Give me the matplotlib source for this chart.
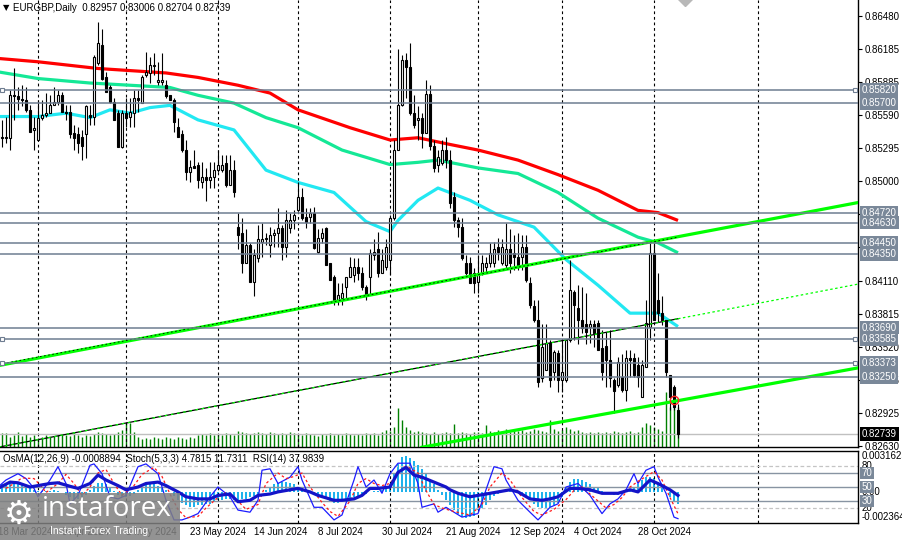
import matplotlib
matplotlib.use("Agg")
import matplotlib.pyplot as plt
import matplotlib.transforms as mtransforms
from matplotlib.patches import Rectangle
import numpy as np

plt.rcParams['font.family'] = ['Liberation Sans', 'DejaVu Sans']

header = "EURGBP,Daily  0.82957 0.83006 0.82704 0.82739"
osma_label = "OsMA(12,26,9) -0.0008894  Stoch(5,3,3) 4.7815 11.7311  RSI(14) 37.9839"

# daily candles, prices in pips (x 1e-4)
opens = [8541, 8540, 8539, 8539, 8577, 8576, 8574, 8573, 8564, 8546,
         8537, 8557, 8559, 8561, 8568, 8571, 8577, 8562, 8562, 8543,
         8542, 8540, 8542, 8559, 8558, 8606, 8622, 8593, 8584, 8571,
         8561, 8531, 8561, 8558, 8561, 8575, 8570, 8595, 8597, 8603,
         8589, 8589, 8586, 8577, 8573, 8549, 8542, 8528, 8508, 8514,
         8515, 8499, 8504, 8501, 8504, 8510, 8510, 8516, 8497, 8510,
         8459, 8454, 8427, 8443, 8410, 8431, 8446, 8448, 8443, 8452,
         8454, 8458, 8441, 8458, 8465, 8474, 8486, 8468, 8468, 8472,
         8437, 8449, 8458, 8427, 8414, 8394, 8396, 8405, 8414, 8416,
         8423, 8418, 8405, 8414, 8434, 8439, 8418, 8423, 8430, 8467,
         8528, 8568, 8609, 8602, 8561, 8555, 8557, 8543, 8578, 8532,
         8515, 8516, 8528, 8519, 8486, 8465, 8459, 8427, 8427, 8418,
         8410, 8418, 8423, 8427, 8427, 8441, 8427, 8425, 8439, 8436,
         8432, 8432, 8441, 8409, 8388, 8376, 8324, 8331, 8355, 8329,
         8346, 8322, 8322, 8358, 8401, 8387, 8376, 8372, 8370, 8372,
         8373, 8351, 8353, 8340, 8322, 8318, 8325, 8313, 8342, 8342,
         8336, 8307, 8334, 8370, 8436, 8394, 8382, 8376, 8327, 8316,
         8295.7]
highs = [8550, 8555, 8558, 8582, 8601, 8584, 8586, 8584, 8568, 8558,
         8573, 8573, 8579, 8577, 8584, 8582, 8580, 8568, 8568, 8550,
         8549, 8546, 8568, 8568, 8613, 8643, 8636, 8598, 8586, 8575,
         8564, 8564, 8575, 8575, 8582, 8582, 8595, 8616, 8611, 8615,
         8607, 8615, 8591, 8577, 8575, 8557, 8546, 8537, 8519, 8528,
         8517, 8517, 8512, 8517, 8517, 8528, 8524, 8524, 8524, 8519,
         8472, 8467, 8457, 8445, 8439, 8461, 8463, 8454, 8459, 8457,
         8476, 8461, 8474, 8472, 8474, 8499, 8494, 8476, 8476, 8477,
         8457, 8458, 8459, 8427, 8416, 8409, 8409, 8414, 8432, 8431,
         8431, 8423, 8407, 8439, 8448, 8455, 8439, 8448, 8470, 8537,
         8618, 8613, 8615, 8624, 8577, 8567, 8561, 8591, 8586, 8537,
         8528, 8537, 8540, 8528, 8490, 8468, 8467, 8434, 8432, 8422,
         8434, 8434, 8432, 8445, 8446, 8449, 8448, 8463, 8457, 8452,
         8454, 8452, 8452, 8414, 8394, 8394, 8372, 8372, 8358, 8349,
         8349, 8358, 8358, 8430, 8403, 8407, 8405, 8400, 8376, 8376,
         8376, 8367, 8365, 8367, 8324, 8343, 8345, 8349, 8349, 8346,
         8343, 8340, 8394, 8445, 8445, 8418, 8397, 8376, 8327, 8318,
         8300.6]
lows = [8533, 8531, 8534, 8528, 8555, 8564, 8567, 8562, 8544, 8528,
        8537, 8555, 8558, 8561, 8568, 8568, 8562, 8555, 8539, 8528,
        8525, 8519, 8521, 8550, 8550, 8604, 8591, 8580, 8570, 8555,
        8531, 8530, 8549, 8549, 8549, 8562, 8570, 8593, 8588, 8595,
        8586, 8586, 8575, 8573, 8544, 8540, 8526, 8501, 8499, 8512,
        8494, 8494, 8482, 8494, 8494, 8508, 8508, 8495, 8497, 8486,
        8439, 8418, 8427, 8410, 8397, 8428, 8432, 8443, 8432, 8441,
        8441, 8430, 8432, 8454, 8457, 8473, 8465, 8458, 8463, 8439,
        8436, 8445, 8425, 8412, 8389, 8389, 8389, 8394, 8414, 8410,
        8412, 8403, 8394, 8398, 8430, 8414, 8418, 8421, 8416, 8465,
        8528, 8567, 8575, 8559, 8548, 8537, 8530, 8543, 8528, 8508,
        8508, 8515, 8512, 8476, 8459, 8450, 8430, 8416, 8409, 8400,
        8400, 8416, 8419, 8423, 8423, 8430, 8425, 8422, 8418, 8421,
        8421, 8421, 8410, 8387, 8374, 8316, 8320, 8331, 8316, 8322,
        8311, 8311, 8320, 8356, 8358, 8354, 8364, 8354, 8355, 8352,
        8349, 8322, 8316, 8316, 8293, 8316, 8311, 8303, 8325, 8325,
        8316, 8307, 8334, 8358, 8376, 8374, 8371, 8325, 8295, 8295,
        8270.4]
closes = [8540, 8539, 8540, 8577, 8576, 8574, 8573, 8564, 8544, 8548,
          8557, 8559, 8561, 8568, 8571, 8577, 8562, 8561, 8542, 8539,
          8534, 8532, 8567, 8558, 8611, 8624, 8592, 8580, 8571, 8555,
          8531, 8561, 8557, 8562, 8575, 8573, 8593, 8598, 8604, 8604,
          8591, 8591, 8576, 8573, 8553, 8540, 8528, 8508, 8513, 8512,
          8501, 8504, 8501, 8504, 8510, 8515, 8515, 8497, 8510, 8490,
          8452, 8427, 8443, 8410, 8434, 8448, 8448, 8449, 8452, 8454,
          8458, 8441, 8465, 8465, 8470, 8486, 8467, 8464, 8472, 8440,
          8449, 8454, 8425, 8412, 8394, 8398, 8400, 8414, 8423, 8423,
          8418, 8405, 8397, 8436, 8437, 8418, 8430, 8441, 8467, 8528,
          8568, 8609, 8602, 8561, 8550, 8557, 8543, 8578, 8532, 8512,
          8522, 8528, 8519, 8481, 8465, 8459, 8431, 8418, 8409, 8409,
          8418, 8427, 8427, 8436, 8439, 8437, 8441, 8439, 8427, 8432,
          8425, 8441, 8412, 8389, 8376, 8320, 8352, 8355, 8322, 8347,
          8322, 8329, 8358, 8403, 8389, 8376, 8369, 8365, 8372, 8364,
          8349, 8329, 8340, 8324, 8312, 8338, 8313, 8342, 8340, 8327,
          8325, 8336, 8373, 8436, 8376, 8382, 8376, 8329, 8307, 8298,
          8273.9]
# tick volume, thousands
volumes = [12, 14, 14, 10, 12, 15, 11, 13, 10, 12,
           9, 10, 12, 10, 11, 12, 13, 12, 11, 14,
           12, 10, 12, 11, 13, 15, 14, 13, 12, 13,
           15, 17, 24, 24, 15, 10, 8, 9, 8, 10,
           9, 8, 10, 9, 8, 10, 9, 8, 10, 9,
           12, 13, 12, 14, 12, 13, 12, 14, 13, 12,
           16, 15, 14, 13, 14, 15, 14, 13, 15, 14,
           13, 14, 13, 15, 14, 13, 12, 14, 13, 12,
           11, 13, 12, 14, 12, 13, 12, 14, 13, 12,
           13, 12, 14, 13, 14, 12, 15, 17, 16, 20,
           39, 27, 20, 17, 15, 16, 15, 14, 13, 15,
           13, 14, 15, 14, 23, 14, 15, 14, 13, 15,
           15, 14, 22, 16, 15, 17, 16, 18, 15, 16,
           16, 17, 15, 16, 18, 17, 16, 15, 27, 18,
           16, 17, 20, 18, 16, 17, 15, 14, 15, 14,
           15, 14, 15, 14, 16, 15, 14, 15, 16, 14,
           15, 20, 24, 22, 20, 18, 16, 55, 40, 44, 40]

# moving averages read at some bars (pips)
ma_red_idx = [0, 10, 25, 42, 50, 60, 68, 75, 88, 98, 105, 113, 120, 130, 140, 150, 160, 165, 170]
ma_red = [8610, 8607, 8601, 8597, 8593, 8586, 8579, 8564, 8548, 8537, 8539, 8533, 8528, 8519, 8506, 8492, 8474, 8472, 8465]
ma_green_idx = [0, 10, 23, 38, 43, 50, 59, 67, 75, 86, 98, 105, 110, 120, 130, 140, 150, 160, 165, 170]
ma_green = [8598, 8592, 8588, 8585, 8584, 8577, 8570, 8557, 8548, 8528, 8515, 8517, 8519, 8512, 8507, 8490, 8467, 8450, 8445, 8436]
ma_cyan_idx = [0, 10, 17, 23, 28, 33, 38, 43, 50, 59, 63, 67, 75, 84, 92, 98, 100, 105, 110, 118, 125, 134, 142, 150, 158, 165, 170]
ma_cyan = [8558, 8558, 8561, 8557, 8564, 8561, 8566, 8568, 8555, 8546, 8528, 8510, 8499, 8490, 8464, 8455, 8465, 8483, 8494, 8483, 8470, 8459, 8430, 8407, 8382, 8382, 8370]

# horizontal levels
levels = [0.85820, 0.85700, 0.84720, 0.84630, 0.84450, 0.84350, 0.83690, 0.83585, 0.83373, 0.83250]
anchored = [0.85820, 0.83585, 0.83373]
last_price = 0.82739
price_ticks = [0.86480, 0.86185, 0.85885, 0.85590, 0.85295, 0.85000, 0.84705, 0.84410,
               0.84110, 0.83815, 0.83520, 0.83225, 0.82925, 0.82630]
hidden_ticks = [0.84705, 0.84410]   # fully under level boxes

# trend lines (bar, price)
trend_a = ([0, 215], [0.8335, 0.8481])
trend_a_black = ([0, 170], [0.8336, 0.8450])
trend_b = ([0, 170], [0.8262, 0.8377])
trend_b_ext = ([170, 215], [0.8377, 0.8408])
trend_c = ([106, 215], [0.8262, 0.8333])
touch_point = (169, 0.8304)

# OsMA histogram (x 1e-4)
osma = [5, 6, 7, 8, 8, 7, 6, 5, 4,
        2, 1, 1, 1, 1, 2, 1, 0,
        -2, -4, -5, -5, -4, -2,
        2, 5, 7, 7, 6, 4,
        1, -2, -4, -4, -3, -1,
        2, 4, 6, 6, 6, 5, 4, 2,
        0, -3, -6, -8,
        -10, -11, -11, -10, -10, -9, -9,
        -7, -6, -6, -5, -5,
        -6, -6, -5, -5, -4, -3, -2,
        0, 2, 4, 6, 7, 8, 8, 7, 6, 4,
        3, 2, 1, 0, -1,
        -3, -5, -7, -8, -8, -7, -6, -5, -4, -3,
        -2, -1, 0, 1, 1, 2, 3,
        6, 14, 22, 27, 28, 26,
        24, 21, 18, 14, 10, 6, 2,
        -2, -6, -10, -14, -17, -19,
        -20, -19, -18, -14, -12, -10,
        -6, -3, -1, 1, 2, 2, 1, 0, -2, -4, -6,
        -9, -11, -12, -12, -11, -10, -8,
        -4, 3, 8, 10, 10, 9, 8,
        6, 4, 3, 1, 0, -1, -2,
        -2, -1, 0, 2, 4, 6,
        9, 12, 12, 11, 8, 4,
        0, -4, -7, -8.894]

rsi_idx = [0, 3, 5, 8, 10, 13, 15, 18, 20, 23, 25, 27, 30, 32, 35, 37, 40, 42, 45, 47,
           50, 53, 55, 58, 60, 63, 65, 68, 70, 73, 75, 78, 80, 84, 86, 89, 91, 93, 95, 98,
           100, 102, 104, 106, 109, 112, 113, 115, 118, 120, 123, 125, 128, 130, 133, 136, 138, 140,
           143, 145, 148, 151, 155, 158, 160, 163, 165, 168, 170]
rsi = [48, 57, 56, 50, 52, 55, 56, 51, 48, 55, 67, 60, 52, 46, 50, 55, 57, 52, 43, 36,
       33, 33, 38, 40, 29, 31, 38, 40, 43, 46, 48, 43, 38, 31, 31, 33, 38, 48, 48, 50,
       71, 78, 67, 64, 57, 50, 46, 41, 36, 38, 41, 43, 46, 43, 33, 31, 33, 36,
       48, 48, 46, 41, 41, 46, 43, 60, 55, 46, 37.98]

stoch_idx = [0, 2, 5, 7, 9, 10, 13, 15, 17, 18, 20, 23, 24, 26, 28, 30, 32, 35, 37, 40,
             42, 44, 46, 48, 50, 53, 55, 58, 60, 63, 65, 66, 68, 70, 73, 75, 76, 79, 81, 84,
             86, 89, 90, 92, 94, 96, 98, 100, 103, 105, 106, 109, 110, 112, 116, 120, 122, 124,
             126, 127, 130, 133, 135, 138, 140, 142, 145, 148, 151, 153, 155, 157, 159, 160,
             162, 164, 165, 167, 169, 170]
stoch_main = [50, 60, 69, 62, 48, 36, 60, 79, 55, 26, 38, 81, 83, 69, 36, 33, 38, 79, 83, 69,
              31, 3, 3, 7, 12, 36, 50, 36, 17, 14, 31, 74, 76, 55, 64, 79, 60, 21, 21, 3,
              10, 60, 79, 50, 60, 41, 69, 84, 84, 55, 21, 26, 14, 21, 7, 12, 46, 79,
              76, 60, 31, 14, 3, 21, 26, 50, 55, 38, 12, 26, 33, 46, 69, 55,
              74, 79, 64, 41, 7, 4.78]
signal_idx = [2, 4, 6, 9, 11, 12, 15, 17, 19, 21, 23, 25, 27, 29, 31, 34, 36, 39, 41, 43,
              45, 47, 50, 52, 55, 57, 60, 62, 65, 67, 70, 72, 74, 76, 78, 81, 83, 85, 88, 90,
              92, 94, 96, 98, 100, 102, 105, 107, 109, 111, 114, 118, 121, 123, 126, 128, 131, 134,
              136, 139, 142, 144, 146, 149, 152, 154, 156, 158, 160, 162, 164, 166, 168, 170]
stoch_signal = [48, 55, 63, 62, 50, 42, 55, 68, 55, 38, 50, 70, 75, 55, 38, 52, 68, 78, 65, 40,
                18, 6, 8, 20, 35, 42, 30, 18, 25, 55, 70, 62, 65, 70, 50, 28, 15, 8, 30, 55,
                62, 55, 52, 55, 70, 80, 70, 45, 25, 20, 15, 10, 25, 50, 70, 60, 35, 15,
                10, 18, 32, 45, 50, 35, 20, 25, 35, 50, 58, 65, 72, 60, 35, 11.73]

grid_bars = [10, 32, 55, 75, 98, 120, 141, 164, 190]
date_bars = [0, 16, 32, 48, 64, 80, 96, 112, 128, 144, 160]
date_labels = ["18 Mar 2024", "9 Apr 2024", "1 May 2024", "23 May 2024", "14 Jun 2024",
               "8 Jul 2024", "30 Jul 2024", "21 Aug 2024", "12 Sep 2024", "4 Oct 2024",
               "28 Oct 2024"]

# ---------------------------------------------------------------------------
W, H = 903, 540
PR = 858          # x pixel of the price scale
fig = plt.figure(figsize=(W / 100, H / 100), dpi=100)
fig.patch.set_facecolor('white')

def rect(top, bottom):
    return [0, 1 - bottom / H, PR / W, (bottom - top) / H]

LEVEL_C = '#6e7d91'
FS = 7

# volume underneath
axv = fig.add_axes(rect(0, 447))
ax = fig.add_axes(rect(0, 447), sharex=axv)
axv.set_zorder(1)
ax.set_zorder(2)
ax.patch.set_visible(False)
axv.axis('off')

idx = np.arange(len(closes))
o = np.array(opens) / 1e4
h = np.array(highs) / 1e4
l = np.array(lows) / 1e4
c = np.array(closes) / 1e4

axv.vlines(idx, 0, volumes, color='#008000', lw=1.0)
axv.set_ylim(0, max(volumes) * 8.1)
ax.set_xlim(0.5, 215)
ax.set_ylim(0.82622, 0.86623)

# grid
for g in grid_bars:
    ax.axvline(g, color='black', lw=0.8, ls=(0, (2.5, 2.5)), zorder=1)

ax.axhline(last_price, color='#c0c0c0', lw=1, zorder=1.2)

# moving averages
ax.plot(ma_red_idx, np.array(ma_red) / 1e4, color='#ff0000', lw=2.3, zorder=2.2, solid_capstyle='butt')
ax.plot(ma_green_idx, np.array(ma_green) / 1e4, color='#14e896', lw=2.3, zorder=2.2, solid_capstyle='butt')
ax.plot(ma_cyan_idx, np.array(ma_cyan) / 1e4, color='#22e8f2', lw=2.3, zorder=2.2, solid_capstyle='butt')

# candles
up = c >= o
ax.vlines(idx, l, h, color='black', lw=0.8, zorder=3)
ax.bar(idx[up], (c - o)[up], bottom=o[up], width=0.5, color='white',
       edgecolor='black', lw=0.8, zorder=4)
ax.bar(idx[~up], (o - c)[~up], bottom=c[~up], width=0.5, color='black',
       edgecolor='black', lw=0.8, zorder=4)

# trend lines
ax.plot(*trend_a, color='#00ff00', lw=2.3, zorder=5)
ax.plot(*trend_a_black, color='black', lw=0.6, ls=(0, (2, 3)), zorder=5.1)
ax.plot(*trend_b, color='black', lw=0.9, zorder=5)
ax.plot(*trend_b, color='#00ff00', lw=0.9, ls=(0, (2, 3)), zorder=5.1)
ax.plot(*trend_b_ext, color='#00ff00', lw=0.9, ls=(0, (2, 2)), zorder=5)
ax.plot(*trend_c, color='#00ff00', lw=2.3, zorder=5)
ax.plot(*touch_point, marker='o', ms=6, mfc='none', mec='#ff2020', mew=1.0, zorder=6)
ax.plot(171.75, 0.86642, marker='D', ms=8, color='#b8b8b8', clip_on=False, zorder=6)

# levels
ytr = ax.get_yaxis_transform()
for lv in levels:
    ax.axhline(lv, color=LEVEL_C, lw=1.1, zorder=5.5)
for lv in anchored:
    for xa in (0.002, 0.9965):
        ax.plot(xa, lv, transform=ytr, marker='s', ms=3.5, mfc='white', mec=LEVEL_C,
                mew=0.8, clip_on=False, zorder=6)

# price scale
ax.yaxis.tick_right()
ax.set_yticks(price_ticks)
ax.set_yticklabels(['' if t in hidden_ticks else f'{t:.5f}' for t in price_ticks], fontsize=FS)
ax.tick_params(axis='y', direction='out', length=3, width=0.8, pad=2)
ax.tick_params(axis='x', bottom=False, labelbottom=False)
for s in ('top', 'left'):
    ax.spines[s].set_visible(False)
for s in ('right', 'bottom'):
    ax.spines[s].set_linewidth(1.0)

for lv in levels:
    ax.text(1.0045, lv, f'{lv:.5f}', transform=ytr, fontsize=FS, color='white',
            va='center', ha='left', zorder=10, clip_on=False,
            bbox=dict(boxstyle='square,pad=0.18', fc='#7a8899', ec='none'))
ax.text(1.0045, last_price, f'{last_price:.5f}', transform=ytr, fontsize=FS, color='white',
        va='center', ha='left', zorder=10, clip_on=False,
        bbox=dict(boxstyle='square,pad=0.18', fc='black', ec='none'))

ax.text(0.004, 1 - 8 / 447, '\u25bc', transform=ax.transAxes, fontsize=6,
        va='center', ha='left', family='DejaVu Sans')
ax.text(0.015, 1 - 8 / 447, header, transform=ax.transAxes, fontsize=FS,
        va='center', ha='left')

# ---------------------------------------------------------------------------
# indicator window
axo = fig.add_axes(rect(451, 523), sharex=ax)
axi = fig.add_axes(rect(451, 523), sharex=ax)
axo.set_zorder(1)
axi.set_zorder(2)
axi.patch.set_visible(False)
axo.axis('off')
axo.set_ylim(-0.002364, 0.0031625)
axo.bar(idx, np.array(osma) / 1e4, width=0.72, color='#1fb2ec', lw=0)

axi.set_ylim(-1.43, 101.43)
for g in grid_bars:
    axi.axvline(g, color='black', lw=0.8, ls=(0, (2.5, 2.5)), zorder=1)
for lv in (80, 20):
    axi.axhline(lv, color='#c4c4c4', lw=0.9, ls=(0, (3, 2)), zorder=1)
for lv in (70, 50, 30):
    axi.axhline(lv, color='#8894a2', lw=1.0, zorder=1)

axi.plot(stoch_idx, stoch_main, color='#1c1cff', lw=0.9, zorder=3)
axi.plot(signal_idx, stoch_signal, color='#ff1a1a', lw=0.9, ls=(0, (2, 2)), zorder=3)
axi.plot(rsi_idx, rsi, color='#1414c8', lw=2.3, zorder=4)

axi.tick_params(left=False, right=False, bottom=False, labelleft=False, labelbottom=False)
axi.spines['left'].set_visible(False)
for s in ('right', 'top', 'bottom'):
    axi.spines[s].set_linewidth(1.0)

axi.text(0.003, 1 - 8 / 72, osma_label, transform=axi.transAxes, fontsize=FS,
         va='center', ha='left', zorder=10)

itr = axi.get_yaxis_transform()
axi.text(1.0045, 1 - 5 / 72, '0.0031625', transform=axi.transAxes,
         fontsize=FS, va='center', ha='left', clip_on=False)
axi.text(1.0045, 80, '80', transform=itr, fontsize=FS, va='center', ha='left', clip_on=False)
axi.text(1.0045, 20, '20', transform=itr, fontsize=FS, va='center', ha='left', clip_on=False)
axi.text(1.0045, 1 - 41 / 72, '0.00', transform=axi.transAxes, fontsize=FS,
         va='center', ha='left', clip_on=False)
axi.text(1.0045, 1 - 66 / 72, '-0.002364', transform=axi.transAxes, fontsize=FS,
         va='center', ha='left', clip_on=False)
for lv in (70, 50, 30):
    axi.text(1.0045, lv, str(lv), transform=itr, fontsize=FS, color='white',
             va='center', ha='left', zorder=10, clip_on=False,
             bbox=dict(boxstyle='square,pad=0.15', fc='#7a8899', ec='none'))

# date scale
dtr = mtransforms.blended_transform_factory(axi.transData, axi.transAxes)
for b, lab in zip(date_bars, date_labels):
    axi.text(b, -9 / 72, lab, transform=dtr, fontsize=FS, va='center', ha='left', clip_on=False)

# watermark
fig.patches.append(Rectangle((0, 0), 180 / W, 47 / H, transform=fig.transFigure,
                             facecolor='#808080', alpha=0.85, edgecolor='none', zorder=20))
fig.text(4 / W, 1 - 514 / H, '\u2699', color='white', fontsize=24, va='center', ha='left',
         family='DejaVu Sans', zorder=21)
fig.text(42 / W, 1 - 509 / H, 'instaforex', color='white', fontsize=20, va='center',
         ha='left', family='Open Sans', zorder=21)
fig.text(50 / W, 1 - 531 / H, 'Instant Forex Trading', color='white', fontsize=7.5,
         va='center', ha='left', zorder=21)

fig.savefig('out.png', dpi=100, facecolor='white')
